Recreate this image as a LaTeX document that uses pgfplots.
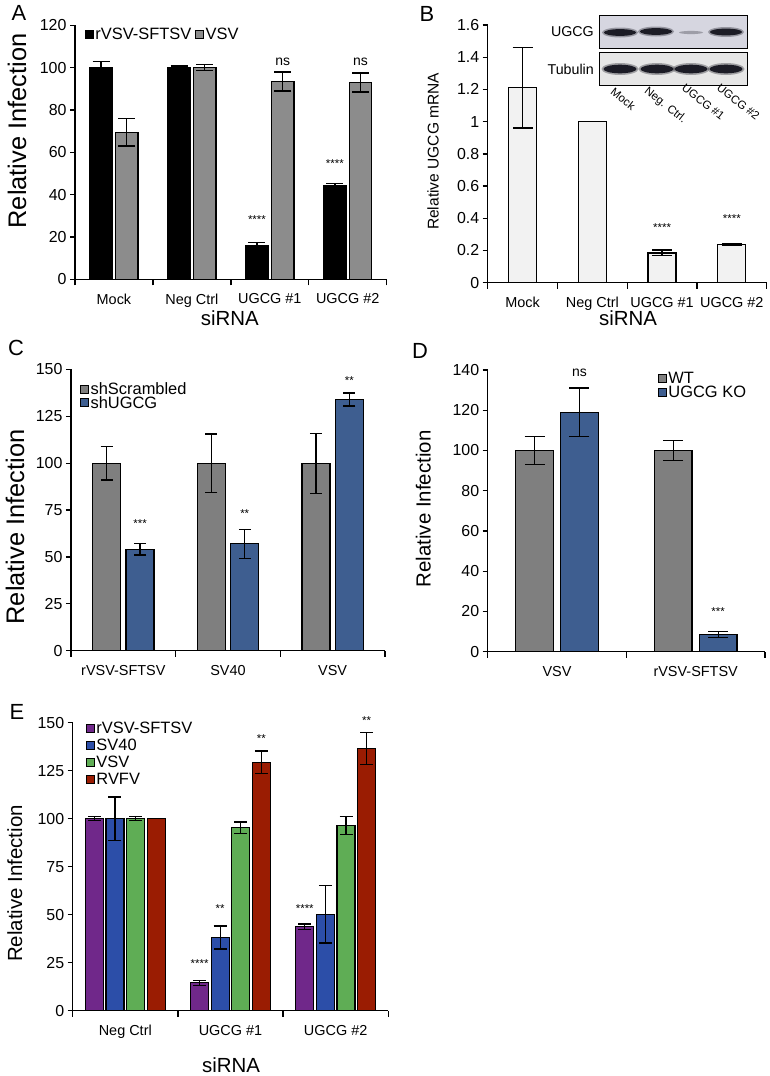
\documentclass[border=0pt]{standalone}
\usepackage{fontspec}
\setmainfont{Liberation Sans}
\usepackage{pgfplots}
\pgfplotsset{compat=1.18}

\definecolor{agray}{HTML}{8C8C8C}
\definecolor{bfill}{HTML}{F2F2F2}
\definecolor{cgray}{HTML}{7F7F7F}
\definecolor{cblue}{HTML}{3E5E90}
\definecolor{epurple}{HTML}{70288A}
\definecolor{eblue}{HTML}{2C4EA8}
\definecolor{egreen}{HTML}{5FAD55}
\definecolor{ered}{HTML}{9A1C02}
\definecolor{blotA}{HTML}{D6D6E0}
\definecolor{blotB}{HTML}{E6E6E6}
\definecolor{band}{HTML}{1C1C26}

\tikzset{
  star/.style={font=\fontsize{11.5}{12}\selectfont},
  ns/.style={font=\fontsize{14}{15}\selectfont},
}

% bars are placed at their own x (category index + offset), so the
% error bars sit on them
\pgfplotsset{
  panel/.style={
    scale only axis, clip=false,
    axis lines*=left,
    axis line style={line width=1.4bp},
    every tick/.style={black, line width=1.3bp},
    tick align=outside,
    major tick length=5bp, minor tick length=6bp,
    major x tick style={draw=none},
    ymin=0,
    /pgf/number format/assume math mode=true,
    yticklabel style={font=\fontsize{16}{18}\selectfont},
    xticklabel style={font=\fontsize{14.5}{16}\selectfont, yshift=-6bp},
    xlabel style={font=\fontsize{20.5}{22}\selectfont, anchor=center},
    ylabel style={anchor=center},
    legend cell align=left,
    legend style={draw=none, fill=none, inner sep=0pt, anchor=north west,
      font=\fontsize{16.5}{17}\selectfont,
      nodes={inner sep=1.5bp, text height=11.5bp, text depth=0.5bp}},
  },
  bars/.style={ybar, bar shift=0pt, draw=black, line width=1.2bp,
    legend image code/.code={\draw[##1, line width=0.8bp, draw=black] (0bp,-4bp) rectangle (8bp,4bp);}},
  eb/.style={/pgfplots/error bars/y dir=both, /pgfplots/error bars/y explicit,
    /pgfplots/error bars/error bar style={line width=1.3bp, black},
    /pgfplots/error bars/error mark options={rotate=90, line width=1.3bp, black, mark size=#1}},
}

\begin{document}
\begin{tikzpicture}[x=1bp, y=1bp]

% ---------- A ----------
\begin{axis}[panel, at={(75bp,-279.3bp)}, anchor=south west, width=311.7bp, height=254bp,
  xmin=-0.5, xmax=3.5, ymax=120, ytick={0,20,...,120},
  xtick={0,1,2,3}, xticklabels={Mock,Neg Ctrl,UGCG \#1,UGCG \#2},
  minor xtick={-0.5,0.5,1.5,2.5,3.5},
  xlabel={siRNA}, xlabel style={at={(axis description cs:0.497,-0.152)}},
  ylabel={Relative Infection},
  ylabel style={font=\fontsize{25.5}{27}\selectfont, at={(axis description cs:-0.186,0.584)}},
  legend columns=2, legend style={at={(axis description cs:0.032,0.996)},
    /tikz/every even column/.append style={column sep=2.5bp}},
]
\addplot[bars, fill=black, bar width=22.5bp, eb=8.5bp] coordinates {
  (-0.165,100) +- (0,3) (0.835,100) +- (0,0.8) (1.835,16) +- (0,1.5) (2.835,44.5) +- (0,0.8)};
\addlegendentry{rVSV-SFTSV}
\addplot[bars, fill=agray, bar width=22.5bp, eb=8.5bp] coordinates {
  (0.165,69.5) +- (0,6.5) (1.165,100) +- (0,1.5) (2.165,93.5) +- (0,4.5) (3.165,93) +- (0,4.5)};
\addlegendentry{VSV}
\node[star] at (axis cs:1.835,28) {****};
\node[star] at (axis cs:2.835,54.8) {****};
\node[ns] at (axis cs:2.165,102.8) {ns};
\node[ns] at (axis cs:3.165,102.8) {ns};
\end{axis}

% ---------- B ----------
\begin{axis}[panel, at={(487.7bp,-282.7bp)}, anchor=south west, width=279bp, height=257.7bp,
  xmin=-0.5, xmax=3.5, ymax=1.6, ytick={0,0.2,0.4,0.6,0.8,1,1.2,1.4,1.6},
  xtick={0,1,2,3}, xticklabels={Mock,Neg Ctrl,UGCG \#1,UGCG \#2},
  minor xtick={-0.5,0.5,1.5,2.5,3.5},
  xlabel={siRNA}, xlabel style={at={(axis description cs:0.503,-0.137)}},
  ylabel={Relative UGCG mRNA},
  ylabel style={font=\fontsize{15.6}{17}\selectfont, at={(axis description cs:-0.196,0.51)}},
]
\addplot[bars, fill=bfill, bar width=28bp, eb=10bp] coordinates {
  (0,1.21) +- (0,0.25) (1,1.0) +- (0,0) (2,0.185) +- (0,0.018) (3,0.235) +- (0,0.005)};
\node[star] at (axis cs:2,0.34) {****};
\node[star] at (axis cs:3,0.40) {****};
\end{axis}

% ---------- C ----------
\begin{axis}[panel, at={(71bp,-650.7bp)}, anchor=south west, width=314bp, height=281.3bp,
  xmin=-0.5, xmax=2.5, ymax=150, ytick={0,25,...,150},
  xtick={0,1,2}, xticklabels={rVSV-SFTSV,SV40,VSV},
  minor xtick={-0.5,0.5,1.5,2.5},
  ylabel={Relative Infection},
  ylabel style={font=\fontsize{25.5}{27}\selectfont, at={(axis description cs:-0.178,0.44)}},
  legend style={at={(axis description cs:0.029,0.957)}, row sep=-1.5bp},
]
\addplot[bars, fill=cgray, bar width=28bp, eb=6bp] coordinates {
  (-0.16,100) +- (0,9) (0.84,100) +- (0,15.6) (1.84,100) +- (0,16)};
\addlegendentry{shScrambled}
\addplot[bars, fill=cblue, bar width=28bp, eb=6bp] coordinates {
  (0.16,54) +- (0,3) (1.16,57) +- (0,7.8) (2.16,134) +- (0,3.5)};
\addlegendentry{shUGCG}
\node[star] at (axis cs:0.16,68) {***};
\node[star] at (axis cs:1.16,73) {**};
\node[star] at (axis cs:2.16,144) {**};
\end{axis}

% ---------- D ----------
\begin{axis}[panel, at={(487.7bp,-651.7bp)}, anchor=south west, width=277.3bp, height=281.7bp,
  xmin=-0.5, xmax=1.5, ymax=140, ytick={0,20,...,140},
  xtick={0,1}, xticklabels={VSV,rVSV-SFTSV},
  minor xtick={-0.5,0.5,1.5},
  ylabel={Relative Infection},
  ylabel style={font=\fontsize{20.5}{22}\selectfont, at={(axis description cs:-0.232,0.507)}},
  legend style={at={(axis description cs:0.614,0.999)}, row sep=-1bp},
]
\addplot[bars, fill=cgray, bar width=37.5bp, eb=10bp] coordinates {
  (-0.162,100) +- (0,7) (0.838,100) +- (0,5)};
\addlegendentry{WT}
\addplot[bars, fill=cblue, bar width=37.5bp, eb=10bp] coordinates {
  (0.162,119) +- (0,12) (1.162,8.5) +- (0,1.4)};
\addlegendentry{UGCG KO}
\node[ns] at (axis cs:0.162,138.4) {ns};
\node[star] at (axis cs:1.162,19.9) {***};
\end{axis}

% ---------- E ----------
\begin{axis}[panel, at={(72.7bp,-1010.7bp)}, anchor=south west, width=315.6bp, height=288bp,
  xmin=-0.5, xmax=2.5, ymax=150, ytick={0,25,...,150},
  xtick={0,1,2}, xticklabels={Neg Ctrl,UGCG \#1,UGCG \#2},
  minor xtick={-0.5,0.5,1.5,2.5},
  xlabel={siRNA}, xlabel style={at={(axis description cs:0.502,-0.189)}},
  ylabel={Relative Infection},
  ylabel style={font=\fontsize{20.5}{22}\selectfont, at={(axis description cs:-0.183,0.442)}},
  legend style={at={(axis description cs:0.042,1.007)}, row sep=2bp},
]
\addplot[bars, fill=epurple, bar width=18bp, eb=6.5bp] coordinates {
  (-0.294,100) +- (0,1) (0.706,14.6) +- (0,1.3) (1.706,43.8) +- (0,1.4)};
\addlegendentry{rVSV-SFTSV}
\addplot[bars, fill=eblue, bar width=18bp, eb=6.5bp] coordinates {
  (-0.098,100) +- (0,11.3) (0.902,38.2) +- (0,6) (1.902,50.2) +- (0,15)};
\addlegendentry{SV40}
\addplot[bars, fill=egreen, bar width=18bp, eb=6.5bp] coordinates {
  (0.098,100) +- (0,1) (1.098,95.3) +- (0,3) (2.098,96.4) +- (0,4.6)};
\addlegendentry{VSV}
\addplot[bars, fill=ered, bar width=18bp, eb=6.5bp] coordinates {
  (0.294,100) +- (0,0) (1.294,129.3) +- (0,5.9) (2.294,136.6) +- (0,8.2)};
\addlegendentry{RVFV}
\node[star] at (axis cs:0.706,24.7) {****};
\node[star] at (axis cs:0.902,53.3) {**};
\node[star] at (axis cs:1.294,141.5) {**};
\node[star] at (axis cs:1.706,53.3) {****};
\node[star] at (axis cs:2.294,151) {**};
\end{axis}

% ---------- western blot inset (B) ----------
\draw[line width=1bp, fill=blotA] (599,-15) rectangle (747,-48);
\draw[line width=1bp, fill=blotB] (599,-52) rectangle (747,-85);
\foreach \xc/\yc in {620/-32.5, 656/-31.5, 726/-32} {
  \fill[band, opacity=0.35] (\xc,\yc) ellipse (18bp and 5bp);
  \fill[band] (\xc,\yc) ellipse (16bp and 3.4bp);
}
\fill[band, opacity=0.3] (691,-32.5) ellipse (12bp and 1.6bp);
\foreach \xc in {620, 657, 691, 726} {
  \fill[band, opacity=0.35] (\xc,-69) ellipse (18.5bp and 6bp);
  \fill[band] (\xc,-69) ellipse (16.5bp and 4.3bp);
}
\node[anchor=east, font=\fontsize{14.3}{16}\selectfont, inner sep=0pt] at (594,-32) {UGCG};
\node[anchor=east, font=\fontsize{14.3}{16}\selectfont, inner sep=0pt] at (594,-69.5) {Tubulin};
\begin{scope}[every node/.style={anchor=north west, rotate=-38, inner sep=0pt, font=\fontsize{11.5}{12}\selectfont}]
\node at (615,-87) {Mock};
\node at (649,-86) {Neg. Ctrl.};
\node at (686,-83) {UGCG \#1};
\node at (721,-83) {UGCG \#2};
\end{scope}

% ---------- panel letters ----------
\begin{scope}[every node/.style={font=\fontsize{22}{24}\selectfont, inner sep=0pt}]
\node at (19,-13) {A};
\node at (427,-14) {B};
\node at (16,-348) {C};
\node at (420,-351) {D};
\node at (17,-712) {E};
\end{scope}

\pgfresetboundingbox
\path (0,0) rectangle (770,-1076);
\end{tikzpicture}
\end{document}
